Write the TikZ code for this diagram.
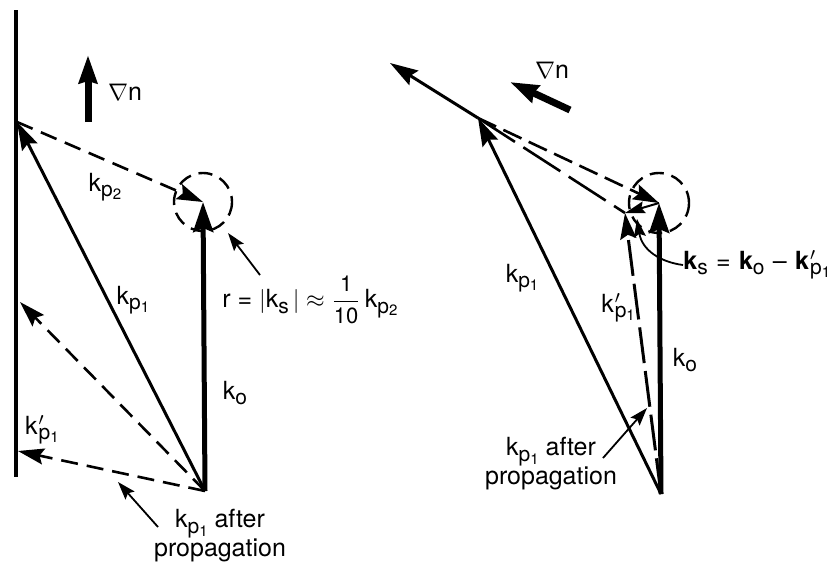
\documentclass[tikz,border=0pt]{standalone}
\usepackage{fontspec}
\setmainfont{TeX Gyre Heros}
\usepackage{amsmath}
\usetikzlibrary{arrows.meta}

\newcommand{\subA}[1]{\raisebox{-.42ex}{\fontsize{10.5}{10.5}\selectfont #1}}
\newcommand{\subB}[1]{\raisebox{-.25ex}{\fontsize{7.5}{7.5}\selectfont #1}}
\newcommand{\kv}[1]{k\subA{#1}}
\newcommand{\kpp}[1]{k\subA{p\subB{#1}}}
\newcommand{\kpr}[1]{k\kern.5pt\rlap{$'$}\subA{p\subB{#1}}}
\newcommand{\num}[1]{\mbox{\fontsize{11}{11}\selectfont #1}}

\begin{document}
\begin{tikzpicture}[x=0.5pt, y=-0.5pt,
  lbl/.style={inner sep=0pt, font=\fontsize{12.5}{14.5}\selectfont, align=center},
  vec/.style={line width=1.5pt, -{Stealth[length=14pt,width=8.5pt,inset=2pt]}},
  bvec/.style={line width=2.5pt, -{Stealth[length=15pt,width=10pt,inset=2pt]}},
  dvec/.style={line width=1.3pt, dash pattern=on 8.5pt off 4.5pt,
               -{Stealth[length=13pt,width=8pt,inset=2pt]}},
  ptr/.style={line width=0.9pt, -{Stealth[length=9pt,width=6pt,inset=1.5pt]}},
  grad/.style={line width=3.5pt, -{Stealth[length=14pt,width=9pt,inset=1pt]}},
  ring/.style={line width=1.2pt, dash pattern=on 7pt off 4pt}
]
\useasboundingbox (0,0) rectangle (829,563);

% left: wall
\coordinate (wtop) at (16,10);
\coordinate (wbot) at (16,477);
\draw[line width=1.6pt] (wtop) -- (wbot);

% left: vectors
\coordinate (O) at (205,491);
\coordinate (P2) at (17,122);
\coordinate (C) at (203,202);
\coordinate (A) at (20,302);
\coordinate (B) at (18,451);
\draw[ring] (C) circle[radius=29];
\draw[bvec] (O) -- (C);
\draw[vec] (O) -- (P2);
\draw[dvec] (P2) -- (C);
\draw[dvec] (O) -- (A);
\draw[dvec] (O) -- (B);

% left: gradient
\coordinate (g1) at (88,122);
\coordinate (g2) at (88,55);
\draw[grad] (g1) -- (g2);
\node[lbl] (gradL) at (125,92) {$\nabla$n};

% left: labels
\node[lbl] (kp2L) at (105,187) {\kpp{2}};
\node[lbl] (kp1L) at (133,300) {\kpp{1}};
\node[lbl] (koL) at (235,393) {\kv{o}};
\node[lbl] (kprL) at (42,430) {\kpr{1}};
\node[lbl, anchor=west] (rL) at (222,300)
  {r = $|$\kv{s}$\,|\approx\dfrac{\num{1}}{\num{10}}$\,\kpp{2}};
\node[lbl] (propL) at (220,536) {\kpp{1} after\\propagation};

% left: pointers
\coordinate (rt) at (260,275);
\coordinate (rh) at (228,233);
\draw[ptr] (rt) -- (rh);
\coordinate (pt) at (158,527);
\coordinate (ph) at (118,482);
\draw[ptr] (pt) -- (ph);

% right: vectors
\coordinate (O2) at (661,494);
\coordinate (P) at (478,118);
\coordinate (T) at (390,63);
\coordinate (C2) at (659,203);
\coordinate (Q) at (625,213);
\draw[ring] (C2) circle[radius=30];
\draw[vec] (P) -- (T);
\draw[vec] (O2) -- (P);
\draw[bvec] (O2) -- (C2);
\draw[dvec, line width=1.5pt, dash pattern=on 18pt off 4pt] (O2) -- (Q);
\draw[dvec, dash pattern=on 10pt off 4pt] (P) -- (C2);
\draw[line width=1.3pt, dash pattern=on 22pt off 5pt] (P) -- (Q);
\draw[line width=1pt, -{Stealth[length=10pt,width=6pt,inset=1.5pt]}] (C2) -- (Q);

% right: gradient
\coordinate (h1) at (570,110);
\coordinate (h2) at (510,82);
\draw[grad] (h1) -- (h2);
\node[lbl] (gradR) at (552,70) {$\nabla$n};

% right: labels
\node[lbl] (kp1R) at (522,278) {\kpp{1}};
\node[lbl] (kprR) at (618,308) {\kpr{1}};
\node[lbl] (koR) at (685,360) {\kv{o}};
\node[lbl, anchor=west] (ksR) at (683,265)
  {\textbf{k}\subA{s}\,\,=\,\,\textbf{k}\subA{o}\,\,--\,\,\textbf{k}\kern.5pt\rlap{$'$}\subA{p\subB{1}}};
\node[lbl] (propR) at (551,464) {\kpp{1} after\\propagation};

% right: pointers
\coordinate (kh) at (637,219);
\draw[ptr] (ksR.west) .. controls (660,262) and (642,250) .. (kh);
\coordinate (qt) at (603,458);
\coordinate (qh) at (647,408);
\draw[ptr] (qt) -- (qh);
\end{tikzpicture}
\end{document}
